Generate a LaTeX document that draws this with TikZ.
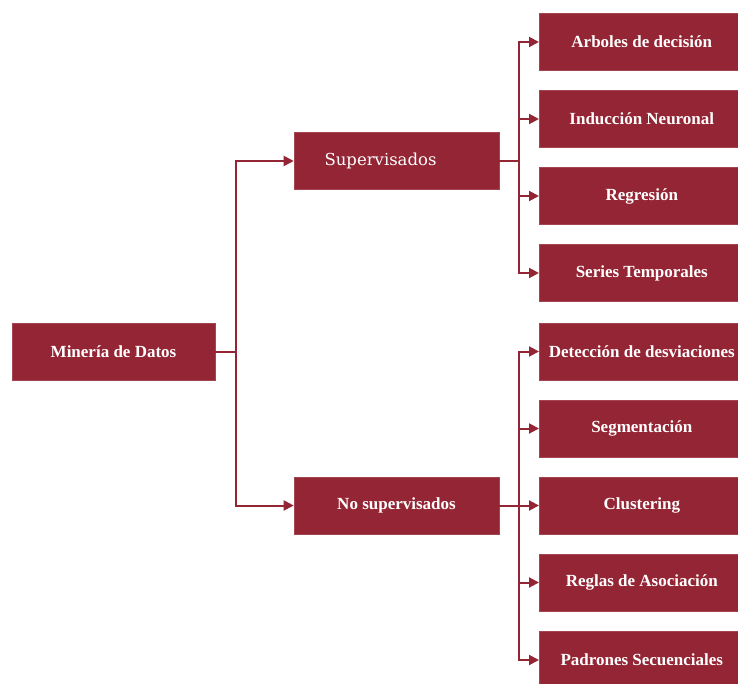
\documentclass[tikz,border=0pt]{standalone}
\usepackage{fontspec}
\setmainfont{Liberation Serif}
\newfontfamily\labelfont{DejaVu Serif}
\usetikzlibrary{arrows.meta}
\definecolor{wine}{RGB}{148,37,52}
\begin{document}
\begin{tikzpicture}[x=1pt,y=-1pt,
  box/.style={fill=wine,draw=wine!85!white,line width=0.6pt,minimum width=205pt,minimum height=57pt,
    text=white,font=\bfseries\fontsize{17}{19}\selectfont,inner sep=0pt},
  leaf/.style={box,anchor=west},
  link/.style={draw=wine,line width=2pt},
  arr/.style={link,-{Triangle[length=10pt,width=10pt]}}]
\useasboundingbox (0,0) rectangle (738,684);
% root and the two branches
\node[box,minimum width=203pt] (root) at (113.5,351.5) {Minería de Datos};
\node[box] (sup) at (396.5,161) {};
\node[anchor=west,text=white,font=\labelfont\fontsize{16.5}{18}\selectfont] (suplabel) at (321,161) {Supervisados};
\node[box] (nosup) at (396.5,505.5) {No supervisados};
% supervised methods
\node[leaf] (a1) at (539,42) {Arboles de decisión};
\node[leaf] (a2) at (539,119) {Inducción Neuronal};
\node[leaf] (a3) at (539,196) {Regresión};
\node[leaf] (a4) at (539,273) {Series Temporales};
% unsupervised methods
\node[leaf] (b1) at (539,351.5) {Detección de desviaciones};
\node[leaf] (b2) at (539,428.5) {Segmentación};
\node[leaf] (b3) at (539,505.5) {Clustering};
\node[leaf] (b4) at (539,582.5) {Reglas de Asociación};
\node[leaf] (b5) at (539,660) {Padrones Secuenciales};
% junction points of the trees
\coordinate (j0) at (236,351.5);
\coordinate (j1) at (519,161);
\coordinate (j2) at (519,505.5);
\draw[link] (root.east) -- (j0);
\draw[arr] (j0) |- (sup.west);
\draw[arr] (j0) |- (nosup.west);
\draw[link] (sup.east) -- (j1);
\foreach \n in {a1,a2,a3,a4} \draw[arr] (j1) |- (\n.west);
\draw[link] (nosup.east) -- (j2);
\foreach \n in {b1,b2,b3,b4,b5} \draw[arr] (j2) |- (\n.west);
\end{tikzpicture}
\end{document}
